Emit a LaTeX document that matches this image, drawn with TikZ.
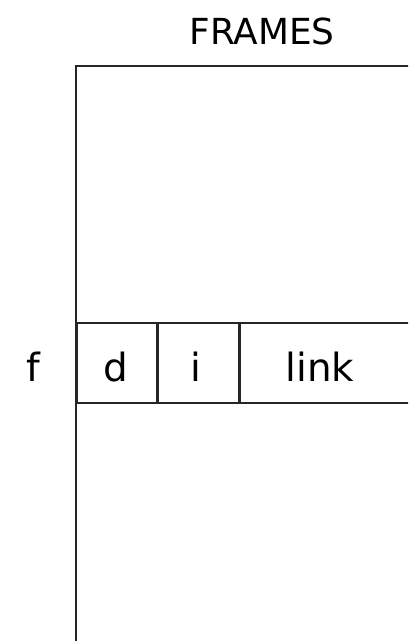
\documentclass[tikz,border=0pt]{standalone}
\usepackage{fontspec}
\setmainfont{DejaVu Sans}
\begin{document}
\begin{tikzpicture}[x=1bp,y=-1bp,
  rule/.style={line width=1.6bp,draw=black!85},
  label/.style={font=\fontsize{39}{44}\selectfont,inner sep=0pt,anchor=base},
  cellbox/.style={rule,minimum height=80bp,inner sep=0pt}]
  \useasboundingbox (0,0) rectangle (408,641);
  \clip (0,0) rectangle (408,641);
  % title
  \node[label,font=\fontsize{36}{42}\selectfont] (title) at (262,45) {FRAMES};
  % frame stack: open to the right and at the bottom
  \coordinate (tl) at (76,66);
  \coordinate (tr) at (420,66);
  \coordinate (bl) at (76,660);
  \draw[rule] (tr) -- (tl) -- (bl);
  % the frame f with its fields
  \node[cellbox,minimum width=80bp,anchor=north west] (d) at (76,322) {};
  \node[cellbox,minimum width=80bp,anchor=north west] (i) at (d.north east) {};
  \node[cellbox,minimum width=200bp,anchor=north west] (lk) at (i.north east) {};
  \node[label] (dt) at (116,381) {d};
  \node[label] (it) at (196,381) {i};
  \node[label] (lt) at (320,381) {link};
  \node[label] (f) at (33,381) {f};
\end{tikzpicture}
\end{document}
